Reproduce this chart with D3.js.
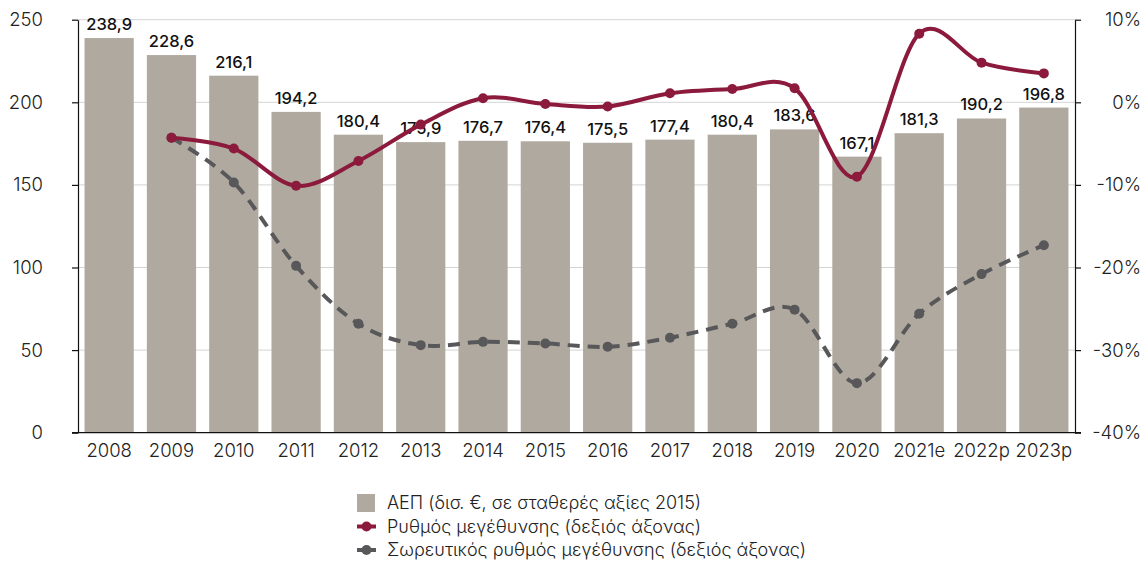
<!DOCTYPE html>
<html>
<head>
<meta charset="utf-8">
<title>ΑΕΠ και ρυθμός μεγέθυνσης</title>
<script src="https://cdn.jsdelivr.net/npm/d3@7"></script>
<style>
  body { margin: 0; background: #fff; }
  text { font-family: Inter, "Noto Sans", sans-serif; }
</style>
</head>
<body>
<script>
// data
var years = ['2008', '2009', '2010', '2011', '2012', '2013', '2014', '2015', '2016', '2017', '2018', '2019', '2020', '2021e', '2022p', '2023p'];
var gdp = [238.9, 228.6, 216.1, 194.2, 180.4, 175.9, 176.7, 176.4, 175.5, 177.4, 180.4, 183.6, 167.1, 181.3, 190.2, 196.8];
// growth rate (%), no value for 2008
var growth = [null, -4.3, -5.6, -10.1, -7.1, -2.7, 0.5, -0.2, -0.5, 1.1, 1.6, 1.7, -9.0, 8.3, 4.8, 3.5];
// cumulative growth since 2008 (%)
var cumulative = [null, -4.3, -9.7, -19.8, -26.8, -29.4, -29.0, -29.2, -29.6, -28.5, -26.8, -25.1, -34.0, -25.6, -20.8, -17.3];
var leftTicks = [0, 50, 100, 150, 200, 250];
var rightTicks = [-40, -30, -20, -10, 0, 10];
var legendLabels = [
    'ΑΕΠ (δισ. €, σε σταθερές αξίες 2015)',
    'Ρυθμός μεγέθυνσης (δεξιός άξονας)',
    'Σωρευτικός ρυθμός μεγέθυνσης (δεξιός άξονας)'
];

var width = 1144, height = 563;
var plot = {left: 78, right: 1075, top: 19.7, bottom: 432.7};

var barColor = '#b0a99f';
var redColor = '#8c1a3c';
var greyColor = '#58585a';

var svg = d3.select('body').append('svg')
    .attr('width', width)
    .attr('height', height);

var xScale = d3.scaleBand()
    .domain(years)
    .range([plot.left, plot.right])
    .paddingInner(0.21)
    .paddingOuter(0.105);

var yLeft = d3.scaleLinear()
    .domain([0, 250])
    .range([plot.bottom, plot.top]);

var yRight = d3.scaleLinear()
    .domain([-40, 10])
    .range([plot.bottom, plot.top]);

function cx(i) { return xScale(years[i]) + xScale.bandwidth() / 2; }

// gridlines
svg.append('g')
    .selectAll('line')
    .data(leftTicks.filter(function(d) { return d > 0; }))
    .enter().append('line')
        .attr('x1', plot.left)
        .attr('x2', plot.right)
        .attr('y1', function(d) { return yLeft(d); })
        .attr('y2', function(d) { return yLeft(d); })
        .attr('stroke', '#d4d4d4')
        .attr('stroke-width', 1);

// bars
svg.append('g')
    .selectAll('rect')
    .data(gdp)
    .enter().append('rect')
        .attr('x', function(d, i) { return xScale(years[i]); })
        .attr('y', function(d) { return yLeft(d); })
        .attr('width', xScale.bandwidth())
        .attr('height', function(d) { return plot.bottom - yLeft(d); })
        .attr('fill', barColor);

// bar labels
svg.append('g')
    .selectAll('text')
    .data(gdp)
    .enter().append('text')
        .attr('x', function(d, i) { return cx(i); })
        .attr('y', function(d) { return yLeft(d) - 8; })
        .attr('text-anchor', 'middle')
        .attr('font-size', 16.5)
        .attr('font-weight', 500)
        .attr('fill', '#111')
        .text(function(d) { return d.toFixed(1).replace('.', ','); });

// axes
var leftAxis = svg.append('g')
    .attr('transform', 'translate(' + plot.left + ',0)')
    .call(d3.axisLeft(yLeft).tickValues(leftTicks).tickSize(6).tickPadding(29).tickSizeOuter(0));

var rightAxis = svg.append('g')
    .attr('transform', 'translate(' + plot.right + ',0)')
    .call(d3.axisRight(yRight).tickValues(rightTicks).tickSize(6).tickPadding(60).tickSizeOuter(0)
        .tickFormat(function(d) { return d + '%'; }));
rightAxis.selectAll('.tick text').attr('text-anchor', 'end');

var bottomAxis = svg.append('g')
    .attr('transform', 'translate(0,' + plot.bottom + ')')
    .call(d3.axisBottom(xScale).tickSize(0).tickPadding(11).tickSizeOuter(0));

[leftAxis, rightAxis, bottomAxis].forEach(function(g) {
    g.selectAll('.domain').attr('stroke', '#111').attr('stroke-width', 1.2);
    g.selectAll('.tick line').attr('stroke', '#111').attr('stroke-width', 1.2);
    g.selectAll('.tick text')
        .attr('font-size', 18.5)
        .attr('font-family', 'Inter, "Noto Sans", sans-serif')
        .attr('font-weight', 300)
        .attr('fill', '#222');
});
bottomAxis.select('.domain').attr('d', 'M' + (plot.left - 6) + ',0H' + (plot.right + 6));

// lines
function drawLine(values, color, dash) {
    var pts = values.map(function(v, i) { return [cx(i), v]; })
        .filter(function(p) { return p[1] !== null; });
    var line = d3.line()
        .x(function(p) { return p[0]; })
        .y(function(p) { return yRight(p[1]); })
        .curve(d3.curveCardinal);
    var g = svg.append('g');
    g.append('path')
        .datum(pts)
        .attr('d', line)
        .attr('fill', 'none')
        .attr('stroke', color)
        .attr('stroke-width', 4)
        .attr('stroke-dasharray', dash);
    g.selectAll('circle')
        .data(pts)
        .enter().append('circle')
            .attr('cx', function(p) { return p[0]; })
            .attr('cy', function(p) { return yRight(p[1]); })
            .attr('r', 5)
            .attr('fill', color);
}
drawLine(cumulative, greyColor, '12,8');
drawLine(growth, redColor, null);

// legend
var legend = svg.append('g').attr('transform', 'translate(357,503)');
legendLabels.forEach(function(label, i) {
    var row = legend.append('g').attr('transform', 'translate(0,' + (i * 23.5) + ')');
    if (i === 0) {
        row.append('rect')
            .attr('x', 0).attr('y', -9)
            .attr('width', 18).attr('height', 18)
            .attr('fill', barColor);
    } else {
        var c = i === 1 ? redColor : greyColor;
        row.append('line')
            .attr('x1', 0).attr('x2', 19)
            .attr('stroke', c)
            .attr('stroke-width', 4);
        row.append('circle')
            .attr('cx', 9.5).attr('r', 5)
            .attr('fill', c);
    }
    row.append('text')
        .attr('x', 30)
        .attr('dy', '0.35em')
        .attr('font-size', 18)
        .attr('font-weight', 300)
        .attr('fill', '#222')
        .text(label);
});
</script>
</body>
</html>
